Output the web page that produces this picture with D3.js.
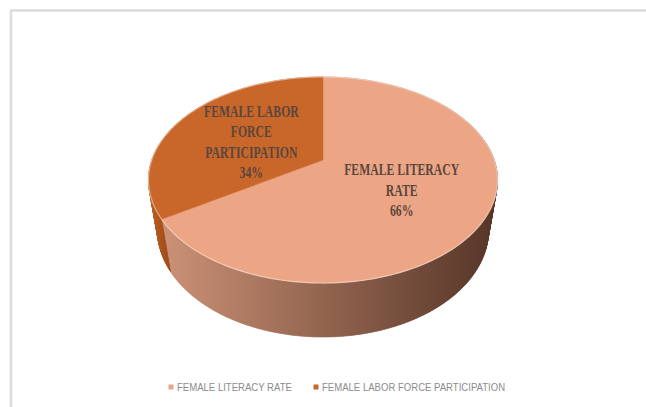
<!DOCTYPE html>
<html>
<head>
<meta charset="utf-8">
<script src="https://cdn.jsdelivr.net/npm/d3@7"></script>
<style>
  html, body { margin: 0; padding: 0; background: #ffffff; }
  svg { display: block; }
</style>
</head>
<body>
<svg id="chart" width="646" height="407"></svg>
<script>
// Chart data
const categories = ["FEMALE LITERACY RATE", "FEMALE LABOR FORCE PARTICIPATION"];
const values = [66, 34];
const labelLines = [["FEMALE LITERACY", "RATE"], ["FEMALE LABOR", "FORCE", "PARTICIPATION"]];
const topColors = ["#eca585", "#c9672b"];

const W = 646, H = 407;
const svg = d3.select("#chart");

// Outer frame (only top and left edges fall inside the view)
svg.append("rect")
  .attr("x", 11).attr("y", 10.5)
  .attr("width", 800).attr("height", 600)
  .attr("fill", "none")
  .attr("stroke", "#dcdcdc")
  .attr("stroke-width", 2.5);

// Perspective projection of a unit disc lying in a tilted plane
const cam = { cx: 323, cy: 160, f: 719, D: 4.2, tilt: 35.4 * Math.PI / 180 };
const cosA = Math.cos(cam.tilt), sinA = Math.sin(cam.tilt);
const thickness = 0.378;
function proj(u, v, z) {
  const yc = v * sinA + z * cosA;
  const depth = cam.D + v * cosA - z * sinA;
  return [cam.cx + cam.f * u / depth, cam.cy - cam.f * yc / depth];
}
// angle measured clockwise from 12 o'clock
function rim(a, z, r = 1) { return proj(r * Math.sin(a), r * Math.cos(a), z); }

const pie = d3.pie().sort(null).value(d => d)(values);
const total = d3.sum(values);
const pct = d3.format(".0%");

// Side shading
const defs = svg.append("defs");
const gSide = defs.append("linearGradient").attr("id", "sideLit")
  .attr("gradientUnits", "userSpaceOnUse")
  .attr("x1", 150).attr("x2", 498).attr("y1", 0).attr("y2", 0);
gSide.append("stop").attr("offset", 0).attr("stop-color", "#d0957a");
gSide.append("stop").attr("offset", 0.45).attr("stop-color", "#986953");
gSide.append("stop").attr("offset", 1).attr("stop-color", "#553427");
const gSide2 = defs.append("linearGradient").attr("id", "sideLab")
  .attr("gradientUnits", "userSpaceOnUse")
  .attr("x1", 147).attr("x2", 170).attr("y1", 0).attr("y2", 0);
gSide2.append("stop").attr("offset", 0).attr("stop-color", "#c2601f");
gSide2.append("stop").attr("offset", 1).attr("stop-color", "#9c4c1a");
const sideFills = ["url(#sideLit)", "url(#sideLab)"];

// Side walls, built from thin quads so the silhouette stays clean
const sideG = svg.append("g");
pie.forEach((s, i) => {
  const n = Math.max(8, Math.ceil((s.endAngle - s.startAngle) / 0.01));
  let d = "";
  for (let k = 0; k < n; k++) {
    const a0 = s.startAngle + (s.endAngle - s.startAngle) * k / n;
    const a1 = s.startAngle + (s.endAngle - s.startAngle) * (k + 1) / n;
    let q = [rim(a0, 0), rim(a1, 0), rim(a1, -thickness), rim(a0, -thickness)];
    if (d3.polygonArea(q) < 0) q = q.reverse();
    d += "M" + q.map(p => p.join(",")).join("L") + "Z";
  }
  sideG.append("path")
    .attr("d", d)
    .attr("fill", sideFills[i])
    .attr("stroke", sideFills[i])
    .attr("stroke-width", 0.6);
});

// Top face slices
const line = d3.line();
const topG = svg.append("g");
pie.forEach((s, i) => {
  const n = Math.ceil((s.endAngle - s.startAngle) / 0.01);
  const pts = [proj(0, 0, 0)];
  for (let k = 0; k <= n; k++) {
    pts.push(rim(s.startAngle + (s.endAngle - s.startAngle) * k / n, 0));
  }
  topG.append("path")
    .attr("d", line(pts) + "Z")
    .attr("fill", topColors[i])
    .attr("stroke", topColors[i])
    .attr("stroke-width", 0.5);
});

// light rim highlight on the front edge of the top face
{
  const pts = d3.range(0, 361, 1).map(a => rim(a * Math.PI / 180, 0));
  topG.append("path")
    .attr("d", line(pts))
    .attr("fill", "none")
    .attr("stroke", "rgba(255,236,225,0.55)")
    .attr("stroke-width", 1.2);
}

// Data labels
const lblG = svg.append("g")
  .attr("font-family", "'Liberation Serif', 'DejaVu Serif', serif")
  .attr("font-size", 17)
  .attr("font-weight", "bold")
  .attr("fill", "#5a463c");
const lineGap = 20.5;
pie.forEach((s, i) => {
  const mid = (s.startAngle + s.endAngle) / 2;
  const [lx, ly] = rim(mid, 0, 0.5);
  const lines = labelLines[i].concat([pct(values[i] / total)]);
  const top = ly + 4.5 - (lines.length - 1) * lineGap / 2;
  lines.forEach((t, k) => {
    lblG.append("text")
      .attr("transform", `translate(${lx},${top + k * lineGap + 6}) scale(0.69,1)`)
      .attr("text-anchor", "middle")
      .text(t);
  });
});

// Legend
const legendX = [171, 316];
const legG = svg.append("g")
  .attr("font-family", "'Liberation Sans', Arial, sans-serif")
  .attr("font-size", 11)
  .attr("fill", "#8c8c8c");
categories.forEach((c, i) => {
  legG.append("rect")
    .attr("x", legendX[i] - 2.5).attr("y", 384.5)
    .attr("width", 5).attr("height", 5)
    .attr("fill", topColors[i]);
  legG.append("text")
    .attr("transform", `translate(${legendX[i] + 6},391) scale(0.87,1)`)
    .text(c);
});
</script>
</body>
</html>
